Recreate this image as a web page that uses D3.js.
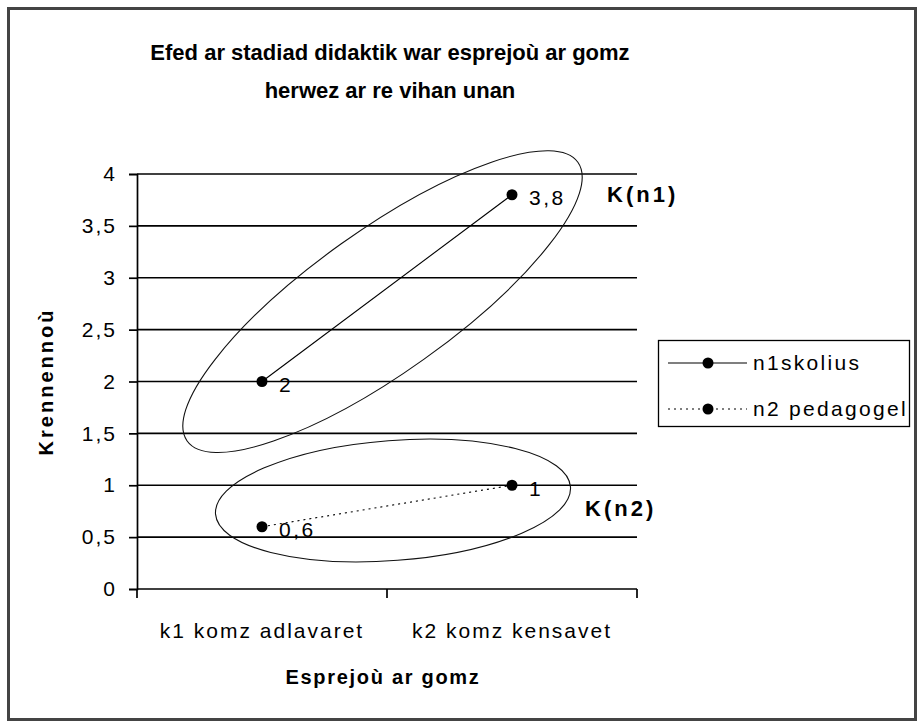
<!DOCTYPE html>
<html>
<head>
<meta charset="utf-8">
<script src="https://cdn.jsdelivr.net/npm/d3@7"></script>
<style>
  body { margin: 0; background: #fff; }
  text { font-family: "Liberation Sans", Arial, sans-serif; fill: #000; }
</style>
</head>
<body>
<div id="chart"></div>
<script>
// data
let categories = ["k1 komz adlavaret", "k2 komz kensavet"];
let seriesNames = ["n1skolius", "n2 pedagogel"];
let n1Values = [2, 3.8];
let n2Values = [0.6, 1];
let valueLabels = [["2", "3,8"], ["0,6", "1"]];
let yTicks = [0, 0.5, 1, 1.5, 2, 2.5, 3, 3.5, 4];
let yTickLabels = ["0", "0,5", "1", "1,5", "2", "2,5", "3", "3,5", "4"];
let groupNames = ["K(n1)", "K(n2)"];
let groupLabelY = [3.8, 0.78];

let width = 917, height = 722;
let plot = {left: 137, right: 637, top: 174, bottom: 589};

let svg = d3.select("#chart").append("svg")
    .attr("width", width)
    .attr("height", height);

// frame
svg.append("rect")
    .attr("x", 8.5).attr("y", 8.5)
    .attr("width", 907).attr("height", 711)
    .attr("fill", "#fff")
    .attr("stroke", "#444")
    .attr("stroke-width", 3);

let x = d3.scaleBand().domain(categories).range([plot.left, plot.right]);
let y = d3.scaleLinear().domain([0, 4]).range([plot.bottom, plot.top]);

// gridlines
svg.append("g").selectAll("line")
    .data(yTicks.slice(1))
    .join("line")
    .attr("x1", plot.left).attr("x2", plot.right)
    .attr("y1", d => y(d)).attr("y2", d => y(d))
    .attr("stroke", "#000")
    .attr("stroke-width", 1.7);

// y axis
let yAxis = svg.append("g")
    .attr("transform", `translate(${plot.left},0)`)
    .call(d3.axisLeft(y).tickValues(yTicks).tickFormat((d, i) => yTickLabels[i])
        .tickSizeOuter(0).tickSize(8).tickPadding(12));
yAxis.select(".domain").attr("stroke-width", 1.7);
yAxis.selectAll(".tick line").attr("stroke-width", 1.7);
yAxis.selectAll("text")
    .attr("font-family", "Liberation Sans, Arial, sans-serif")
    .style("font-size", "21px")
    .style("letter-spacing", "2px");

// x axis
let xAxis = svg.append("g")
    .attr("transform", `translate(0,${plot.bottom})`)
    .call(d3.axisBottom(x).tickSize(0).tickPadding(34));
xAxis.select(".domain").attr("stroke-width", 1.7).attr("d", `M${plot.left},0H${plot.right}`);
xAxis.selectAll("text")
    .attr("font-family", "Liberation Sans, Arial, sans-serif")
    .style("font-size", "21px")
    .style("letter-spacing", "2px");
// category separators
svg.append("g").selectAll("line")
    .data([plot.left, plot.left + x.bandwidth(), plot.right])
    .join("line")
    .attr("x1", d => d).attr("x2", d => d)
    .attr("y1", plot.bottom).attr("y2", plot.bottom + 9)
    .attr("stroke", "#000").attr("stroke-width", 1.7);

let cx = d => x(d) + x.bandwidth() / 2;
let xFrac = f => plot.left + f * (plot.right - plot.left);

// group ellipses drawn round each series
let ellipses = [
  {cx: 0.491, cy: 2.77, rx: 240, ry: 71, rot: -35.5},
  {cx: 0.512, cy: 0.853, rx: 178, ry: 60, rot: -4.4}
];
svg.append("g").selectAll("ellipse")
    .data(ellipses)
    .join("ellipse")
    .attr("transform", d => `translate(${xFrac(d.cx)},${y(d.cy)}) rotate(${d.rot})`)
    .attr("rx", d => d.rx).attr("ry", d => d.ry)
    .attr("fill", "none")
    .attr("stroke", "#111")
    .attr("stroke-width", 1.1);

svg.append("g").selectAll("text")
    .data(groupNames)
    .join("text")
    .attr("x", (d, i) => i == 0 ? 607 : 585)
    .attr("y", (d, i) => y(groupLabelY[i]))
    .attr("dy", "0.35em")
    .style("font-size", "22px")
    .style("font-weight", "bold")
    .style("letter-spacing", "3px")
    .text(d => d);

// series
let series = [n1Values, n2Values];
let dashes = [null, "2,4"];
let line = d3.line().x((d, i) => cx(categories[i])).y(d => y(d));
series.forEach((vals, s) => {
  svg.append("path")
      .datum(vals)
      .attr("d", line)
      .attr("fill", "none")
      .attr("stroke", "#000")
      .attr("stroke-width", 1.1)
      .attr("stroke-dasharray", dashes[s]);
  svg.append("g").selectAll("circle")
      .data(vals)
      .join("circle")
      .attr("cx", (d, i) => cx(categories[i]))
      .attr("cy", d => y(d))
      .attr("r", 5.5)
      .attr("fill", "#000");
  svg.append("g").selectAll("text")
      .data(vals)
      .join("text")
      .attr("x", (d, i) => cx(categories[i]) + 17)
      .attr("y", d => y(d) + 3)
      .attr("dy", "0.35em")
      .style("font-size", "21px")
      .style("letter-spacing", "2.5px")
      .text((d, i) => valueLabels[s][i]);
});

// title
svg.append("text")
    .attr("x", 390).attr("y", 60)
    .attr("text-anchor", "middle")
    .style("font-size", "22px").style("font-weight", "bold")
    .text("Efed ar stadiad didaktik war esprejoù ar gomz");
svg.append("text")
    .attr("x", 390).attr("y", 98)
    .attr("text-anchor", "middle")
    .style("font-size", "22px").style("font-weight", "bold")
    .text("herwez ar re vihan unan");

// axis titles
svg.append("text")
    .attr("x", (plot.left + plot.right) / 2 - 4).attr("y", 684)
    .attr("text-anchor", "middle")
    .style("font-size", "20px").style("font-weight", "bold")
    .style("letter-spacing", "1.7px")
    .text("Esprejoù ar gomz");
svg.append("text")
    .attr("transform", `translate(53,${(plot.top + plot.bottom) / 2}) rotate(-90)`)
    .attr("text-anchor", "middle")
    .style("font-size", "20px").style("font-weight", "bold")
    .style("letter-spacing", "3px")
    .text("Krennennoù");

// legend
let legend = svg.append("g").attr("transform", "translate(658,340)");
legend.append("rect")
    .attr("x", 0.5).attr("y", 0.5)
    .attr("width", 251).attr("height", 86)
    .attr("fill", "#fff").attr("stroke", "#000").attr("stroke-width", 1.3);
let rows = legend.selectAll("g.row")
    .data(seriesNames)
    .join("g")
    .attr("class", "row")
    .attr("transform", (d, i) => `translate(0,${23 + i * 46})`);
rows.append("line")
    .attr("x1", 10).attr("x2", 89)
    .attr("stroke", "#000").attr("stroke-width", 1.1)
    .attr("stroke-dasharray", (d, i) => i == 1 ? "2,4" : null);
rows.append("circle")
    .attr("cx", 50).attr("r", 5.5).attr("fill", "#000");
rows.append("text")
    .attr("x", 95).attr("dy", "0.35em")
    .style("font-size", "21px")
    .style("letter-spacing", "2.3px")
    .text(d => d);
</script>
</body>
</html>
